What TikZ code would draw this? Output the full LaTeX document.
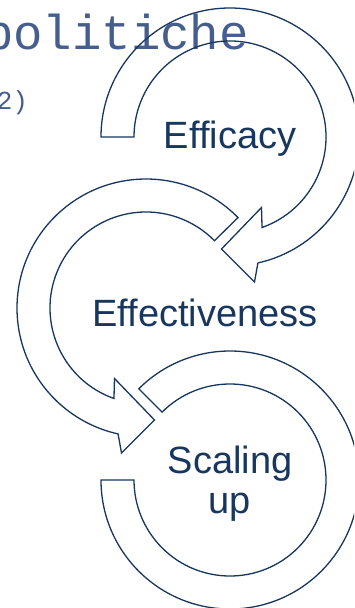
\documentclass[tikz,border=0pt]{standalone}
\usepackage{fontspec}
\setmainfont{Liberation Sans}
\newfontfamily\monofont{Liberation Mono}
\usetikzlibrary{calc}
\definecolor{navy}{RGB}{23,55,94}
\definecolor{slate}{RGB}{70,94,142}
\begin{document}
\begin{tikzpicture}[x=1pt,y=1pt,
  band/.style={draw=navy, line width=1.3pt, line join=miter},
  txt/.style={text=navy, font=\fontsize{38}{40}\selectfont, inner sep=0pt},
  mono/.style={text=slate, inner sep=0pt}]
\useasboundingbox (0,0) rectangle (354,-608);
\fill[white] (0,0) rectangle (354,-608);
\clip (0,0) rectangle (354,-608);

% background slide text (cut off)
\node[mono, font=\monofont\fontsize{49}{56}\selectfont, anchor=base west] (frag) at (14,13) {p};
\node[mono, font=\monofont\fontsize{49}{56}\selectfont, anchor=base west] (pol) at (-16,-49) {politiche};
\node[mono, font=\monofont\fontsize{26}{30}\selectfont, anchor=base west] (num) at (-3.4,-109) {2)};

\coordinate (cA) at (230,-137);
\coordinate (cB) at (146,-308);
\coordinate (cC) at (230,-480);

% top arrow
\draw[band] ($(cA)+(180:129)$) arc[start angle=180, end angle=-77.5, radius=129]
  -- ($(cA)+(24.5,-145)$) -- ($(cA)+(-8.5,-112)$) -- ($(cA)+(31.5,-70.5)$)
  -- ($(cA)+(-70.5:96)$) arc[start angle=-70.5, end angle=180, radius=96] -- cycle;

% middle arrow
\draw[band] ($(cB)+(44.5:129)$) arc[start angle=44.5, end angle=257.5, radius=129]
  -- ($(cB)+(-24.5,-145)$) -- ($(cB)+(8.5,-112)$) -- ($(cB)+(-31.5,-70.5)$)
  -- ($(cB)+(250.5:96)$) arc[start angle=250.5, end angle=44.5, radius=96] -- cycle;

% bottom ring
\draw[band] ($(cC)+(180:129)$) arc[start angle=180, end angle=495, radius=129]
  -- ($(cC)+(135:96)$) arc[start angle=495, end angle=180, radius=96] -- cycle;

\node[txt, anchor=base] (efficacy) at (230,-148) {Efficacy};
\node[txt, anchor=base] (effect) at (205,-326) {Effectiveness};
\node[txt, anchor=base, align=center] (scaling) at (230,-513) {Scaling\\up};
\end{tikzpicture}
\end{document}
